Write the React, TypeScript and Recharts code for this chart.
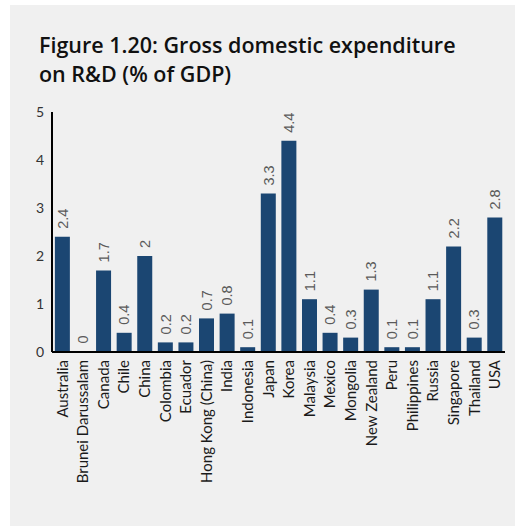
import React from "react";
import { BarChart, Bar, XAxis, YAxis, LabelList } from "recharts";

const countries = [
  "Australia", "Brunei Darussalam", "Canada", "Chile", "China", "Colombia",
  "Ecuador", "Hong Kong (China)", "India", "Indonesia", "Japan", "Korea",
  "Malaysia", "Mexico", "Mongolia", "New Zealand", "Peru", "Philippines",
  "Russia", "Singapore", "Thailand", "USA",
];
const gerd = [
  2.4, 0, 1.7, 0.4, 2, 0.2, 0.2, 0.7, 0.8, 0.1, 3.3, 4.4,
  1.1, 0.4, 0.3, 1.3, 0.1, 0.1, 1.1, 2.2, 0.3, 2.8,
];
const yTicks = [0, 1, 2, 3, 4, 5];

const data = countries.map((name, i) => ({ name, value: gerd[i] }));

const barColor = "#1b4672";
const sansFont = "Lato, 'Noto Sans', sans-serif";

function CountryTick(props: any) {
  const { x, y, payload } = props;
  return (
    <g transform={`translate(${x},${y})`}>
      <text
        transform="rotate(-90)"
        textAnchor="end"
        dy="0.36em"
        fontSize={15}
        fontFamily={sansFont}
        fill="#1a1a1a"
      >
        {payload.value}
      </text>
    </g>
  );
}

function ValueLabel(props: any) {
  const { x, y, width, height, value } = props;
  const cx = x + width / 2;
  const top = Math.min(y, y + height) - 8;
  return (
    <text
      x={cx}
      y={top}
      transform={`rotate(-90, ${cx}, ${top})`}
      textAnchor="start"
      dy="0.36em"
      fontSize={14.5}
      fontFamily="'Liberation Sans', Arial, sans-serif"
      fill="#5a5a5a"
    >
      {value}
    </text>
  );
}

export default function App() {
  return (
    <div style={{
      position: "fixed", left: 0, top: 0, width: 515, height: 526,
      background: "#ffffff", overflow: "hidden",
    }}>
      <div style={{
        position: "absolute", left: 10, top: 5, width: 505, height: 521,
        background: "#f0f0f0",
      }} />
      <div style={{
        position: "absolute", left: 39, top: 30,
        fontFamily: "'Open Sans', sans-serif", fontWeight: 600, fontSize: 21.5,
        lineHeight: "29px", color: "#111",
      }}>
        Figure 1.20: Gross domestic expenditure<br />on R&amp;D (% of GDP)
      </div>
      <div style={{ position: "absolute", left: 0, top: 0 }}>
        <BarChart
          width={515}
          height={526}
          data={data}
          margin={{ top: 112, right: 10, bottom: 0, left: 0 }}
          barCategoryGap="14%"
        >
          <YAxis
            domain={[0, 5]}
            ticks={yTicks}
            interval={0}
            width={52}
            tickLine={false}
            axisLine={{ stroke: "#000", strokeWidth: 2 }}
            tick={{ fontSize: 14, fill: "#333", fontFamily: sansFont }}
          />
          <XAxis
            dataKey="name"
            interval={0}
            height={174}
            tickLine={false}
            axisLine={{ stroke: "#000", strokeWidth: 2 }}
            tick={<CountryTick />}
          />
          <Bar dataKey="value" fill={barColor} minPointSize={0.5} isAnimationActive={false}>
            <LabelList dataKey="value" content={<ValueLabel />} />
          </Bar>
        </BarChart>
      </div>
    </div>
  );
}
